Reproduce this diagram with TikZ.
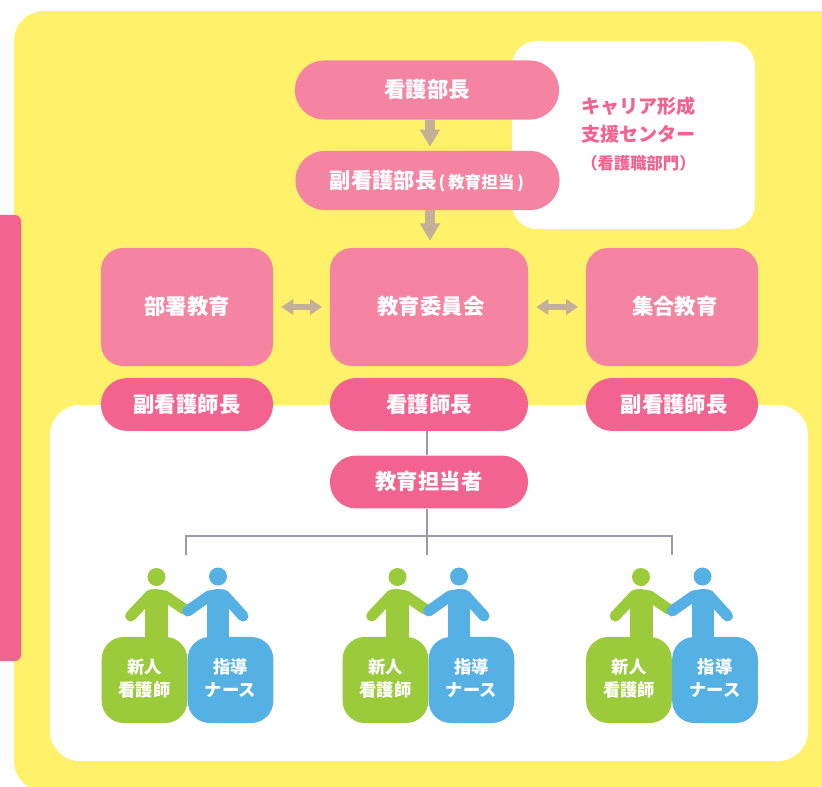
\documentclass[tikz,border=0pt]{standalone}
\usepackage{fontspec}
\setmainfont{Noto Sans CJK JP}
\usetikzlibrary{arrows.meta}
\definecolor{padyellow}{HTML}{FFF16A}
\definecolor{softpink}{HTML}{F484A1}
\definecolor{deeppink}{HTML}{F2648F}
\definecolor{nursegreen}{HTML}{9BCA3B}
\definecolor{guideblue}{HTML}{55B0E4}
\definecolor{flowtan}{HTML}{C4B097}
\definecolor{treegrey}{HTML}{9A9AA8}

\begin{document}
\begin{tikzpicture}[x=.025cm,y=-.025cm,
   box/.style={inner sep=0pt,text=white,font=\bfseries\fontsize{15.2}{18}\selectfont,align=center,text height=1.1em,text depth=0pt},
   toppill/.style={box,fill=softpink,minimum width=6.6cm,minimum height=1.475cm,rounded corners=.73cm},
   softbox/.style={box,fill=softpink,minimum height=2.95cm,rounded corners=.55cm},
   lowpill/.style={box,fill=deeppink,minimum width=4.3cm,minimum height=1.32cm,rounded corners=.65cm},
   smallbox/.style={inner sep=0pt,text=white,align=center,minimum width=2.14cm,minimum height=2.15cm,rounded corners=.55cm,font=\bfseries\fontsize{12.3}{16.4}\selectfont,text depth=3.6pt},
   downflow/.style={draw=flowtan,line width=.235cm,-{Triangle[length=.43cm,width=.48cm]},shorten >=.1cm},
   sideflow/.style={draw=flowtan,line width=.17cm,{Triangle[length=.3cm,width=.38cm]}-{Triangle[length=.3cm,width=.38cm]},shorten >=.19cm,shorten <=.2cm},
   tree/.style={draw=treegrey,line width=.04cm},
   limb/.style={line width=.275cm,line cap=round,line join=round}]

   \useasboundingbox (0,0) rectangle (822,787);
   \clip (0,0) rectangle (822,787);

   \fill[padyellow,rounded corners=.75cm] (14,11) rectangle (880,791);
   \fill[white,rounded corners=.62cm] (512,41) rectangle (755,229);
   \fill[white,rounded corners=.75cm] (50,405) rectangle (808,761);
   \fill[deeppink,rounded corners=.15cm] (-20,215) rectangle (21,661);

   \coordinate (flowaxis) at (430,0);
   \coordinate (treeaxis) at (427,536);
   \coordinate (treeleft) at (186,536);
   \coordinate (treeright) at (672,536);
   \coordinate (dropleft) at (186,555);
   \coordinate (dropmid) at (427,555);
   \coordinate (dropright) at (672,555);

   \node[toppill] (director) at (427,90) {看護部長};
   \node[toppill] (deputy) at (427.5,180.5) {副看護部長\fontsize{11.8}{14}\selectfont\hspace{1.5pt}(\hspace{2pt}教育担当\hspace{2pt})\hspace{1pt}};
   \node[softbox,minimum width=4.3cm] (ward) at (187,307) {部署教育};
   \node[softbox,minimum width=4.95cm] (committee) at (429,307) {\hspace*{2.8pt}教育委員会};
   \node[softbox,minimum width=4.3cm] (group) at (672,307) {\hspace*{4pt}集合教育};
   \node[lowpill] (subleft) at (187,404.5) {副看護師長};
   \node[lowpill,minimum width=4.95cm] (head) at (429,404.5) {看護師長};
   \node[lowpill] (subright) at (672,404.5) {\hspace*{3pt}副看護師長};
   \node[lowpill,minimum width=4.95cm] (teacher) at (429,482) {教育担当者};
   \node[inner sep=0pt,text=deeppink,align=center,font=\bfseries\fontsize{13.6}{20}\selectfont] (center) at (638.5,134) {キャリア形成\\支援センター\\{\fontsize{11.6}{20}\selectfont （看護職部門）}};

   \draw[downflow] (director.south -| flowaxis) -- (deputy.north -| flowaxis);
   \draw[downflow,shorten >=.175cm] (deputy.south -| flowaxis) -- (committee.north -| flowaxis);
   \draw[sideflow] (ward) -- (committee);
   \draw[sideflow] (committee) -- (group);

   \draw[tree] (head.south -| treeaxis) -- (teacher.north -| treeaxis);
   \draw[tree] (teacher.south -| treeaxis) -- (dropmid);
   \draw[tree] (dropleft) -- (treeleft) -- (treeright) -- (dropright);

   \foreach \n/\dx in {1/0,2/241,3/484.5} {
      \begin{scope}[xshift=\dx*.025cm]
         \fill[nursegreen] (156.5,577) circle (.225cm);
         \fill[nursegreen] (145,597) rectangle (168,640);
         \draw[limb,nursegreen] (130.7,616) -- (150.5,595) -- (156,594.5) -- (165,596) -- (184,609);
         \fill[guideblue] (218,576.5) circle (.225cm);
         \fill[guideblue] (207,597) rectangle (229,640);
         \draw[limb,guideblue] (187.7,611) -- (209,596) -- (218,594.5) -- (224,595) -- (243,616);
         \node[smallbox,fill=nursegreen] (nurse\n) at (144.5,680) {新人\\看護師};
         \node[smallbox,fill=guideblue] (guide\n) at (230.5,680) {指導\\ナース};
      \end{scope}
   }

\end{tikzpicture}
\end{document}
